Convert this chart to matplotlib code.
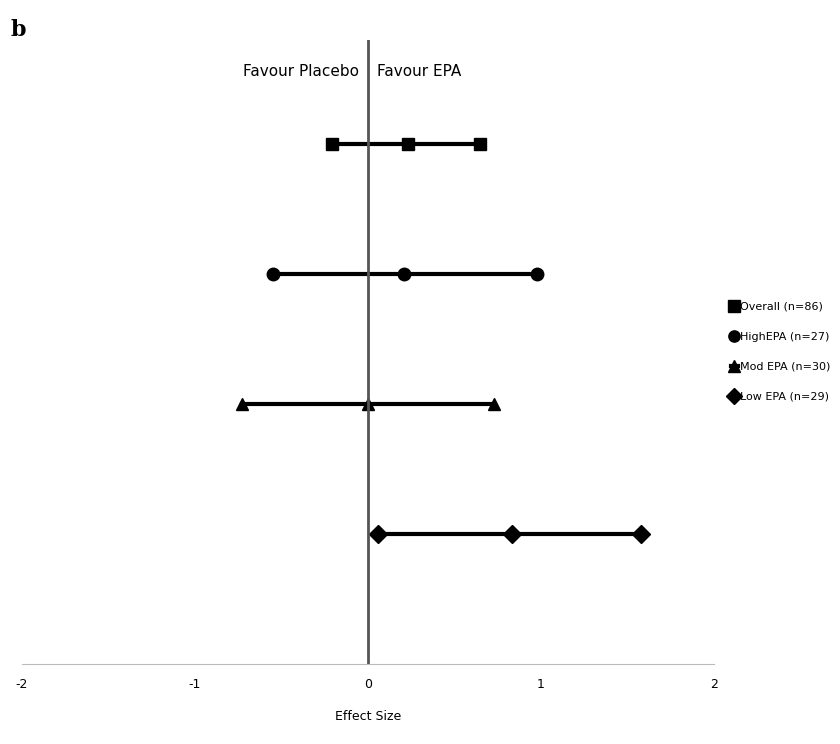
import matplotlib.pyplot as plt

groups = ['Overall (n=86)', 'HighEPA (n=27)', 'Mod EPA (n=30)', 'Low EPA (n=29)']
ypos = [4, 3, 2, 1]
effect = [0.23, 0.21, 0.00, 0.83]
lower = [-0.21, -0.55, -0.73, 0.06]
upper = [0.65, 0.98, 0.73, 1.58]
markers = ['s', 'o', '^', 'D']

fig = plt.figure(figsize=(8.4, 7.44), dpi=100)
ax = fig.add_axes([0.026, 0.1075, 0.824, 0.839])

for g, y, e, lo, hi, m in zip(groups, ypos, effect, lower, upper, markers):
    ax.plot([lo, e, hi], [y, y, y], color='black', lw=3, marker=m, ms=9, label=g)

ax.axvline(0, color='#555555', lw=2)
ax.set_xlim(-2, 2)
ax.set_ylim(0, 4.8)
ax.set_xticks([-2, -1, 0, 1, 2])
ax.set_xticklabels(['-2', '-1', '0', '1', '2'], fontsize=9)
ax.set_yticks([])
for s in ['top', 'right', 'left']:
    ax.spines[s].set_visible(False)
ax.spines['bottom'].set_color('#bbbbbb')
ax.tick_params(axis='x', length=0, pad=10)
ax.set_xlabel('Effect Size', fontsize=9, labelpad=14)

ax.text(-0.05, 4.56, 'Favour Placebo', ha='right', va='center', fontsize=11)
ax.text(0.05, 4.56, 'Favour EPA', ha='left', va='center', fontsize=11)
fig.text(0.012, 0.975, 'b', fontsize=16, fontweight='bold', family='serif', va='top')

ax.legend(loc='center left', bbox_to_anchor=(1.01, 0.5), frameon=False,
          fontsize=8, handlelength=0.6, handletextpad=0.2, labelspacing=1.8,
          markerscale=0.9)

fig.savefig('out.png')
